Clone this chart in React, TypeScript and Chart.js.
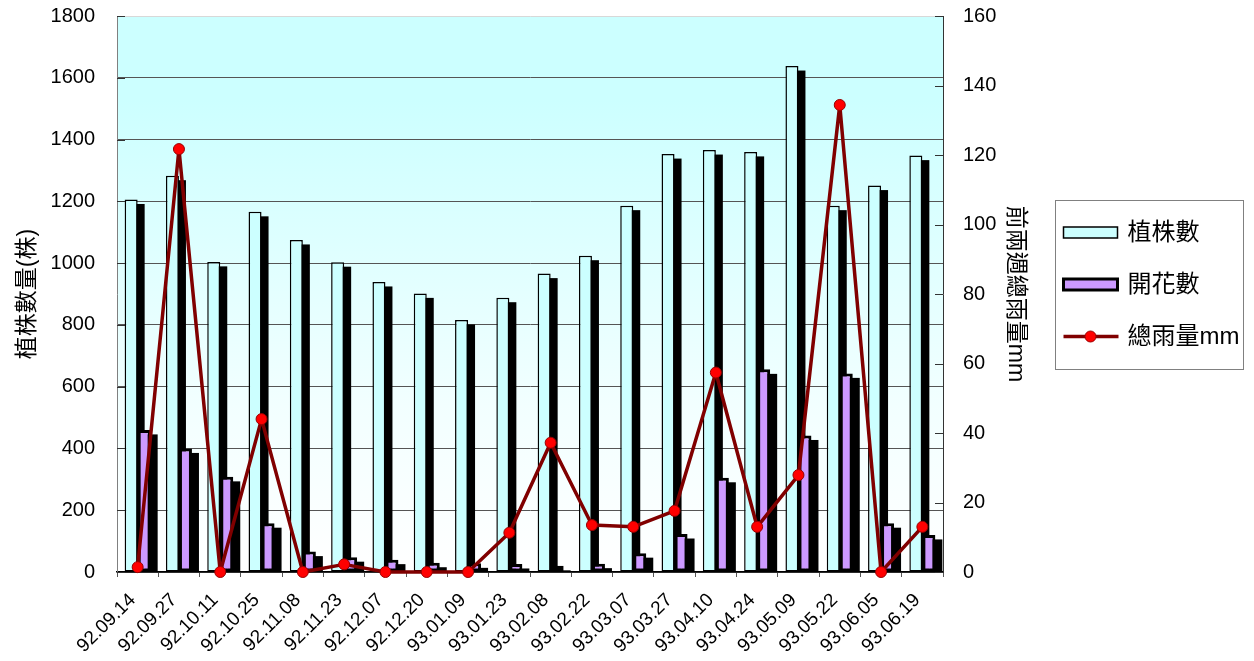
import React, { useEffect, useRef } from "react";
import { Chart, registerables } from "chart.js";

Chart.register(...registerables);

const categories = [
  "92.09.14", "92.09.27", "92.10.11", "92.10.25", "92.11.08", "92.11.23", "92.12.07",
  "92.12.20", "93.01.09", "93.01.23", "93.02.08", "93.02.22", "93.03.07", "93.03.27",
  "93.04.10", "93.04.24", "93.05.09", "93.05.22", "93.06.05", "93.06.19",
];
const plantCounts = [1206, 1283, 1004, 1166, 1075, 1003, 939, 902, 816, 888, 966, 1024, 1186, 1353, 1366, 1360, 1638, 1186, 1251, 1348];
const flowerCounts = [460, 400, 308, 158, 66, 48, 40, 30, 28, 26, 20, 27, 61, 123, 305, 656, 442, 643, 158, 120];
const rainfall = [1.4, 121.7, 0, 44, 0, 2.2, 0, 0, 0, 11.3, 37.2, 13.5, 13, 17.6, 57.4, 13, 27.9, 134.4, 0, 13];

const seriesLabels = ["植株數", "開花數", "總雨量mm"];
const leftAxisTitle = "植株數量(株)";
const rightAxisTitle = "前兩週總雨量mm";
const leftMax = 1800;
const leftStep = 200;
const rightMax = 160;
const rightStep = 20;

const FONT = '"Liberation Sans", Arial, "Noto Sans CJK TC", sans-serif';

const backgroundPlugin = {
  id: "plotBackground",
  beforeDraw(chart: any) {
    const { ctx, chartArea } = chart;
    const { left, top, right, bottom } = chartArea;
    const g = ctx.createLinearGradient(0, top, 0, bottom);
    g.addColorStop(0, "#CCFFFF");
    g.addColorStop(0.15, "#CCFFFF");
    g.addColorStop(0.7, "#F2FFFF");
    g.addColorStop(1, "#FFFFFF");
    ctx.save();
    ctx.fillStyle = g;
    ctx.fillRect(left, top, right - left, bottom - top);
    ctx.restore();
  },
};

const shadowPlugin = {
  id: "barShadow",
  beforeDatasetsDraw(chart: any) {
    const { ctx, chartArea } = chart;
    ctx.save();
    ctx.beginPath();
    ctx.rect(chartArea.left, chartArea.top, chartArea.right - chartArea.left, chartArea.bottom - chartArea.top);
    ctx.clip();
    ctx.fillStyle = "#000000";
    chart.data.datasets.forEach((ds: any, i: number) => {
      if (ds.type !== "bar") return;
      const meta = chart.getDatasetMeta(i);
      meta.data.forEach((el: any) => {
        const { x, y, base, width } = el.getProps(["x", "y", "base", "width"], true);
        const dx = 7;
        const dy = 4.5;
        const h = base - y - dy;
        if (h > 0) ctx.fillRect(x - width / 2 + dx, y + dy, width, h);
      });
    });
    ctx.restore();
  },
};

const innerTicksPlugin = {
  id: "innerTicks",
  afterDatasetsDraw(chart: any) {
    const { ctx, chartArea, scales } = chart;
    ctx.save();
    ctx.strokeStyle = "#333333";
    ctx.lineWidth = 1;
    scales.y.ticks.forEach((t: any) => {
      const py = Math.round(scales.y.getPixelForValue(t.value)) + 0.5;
      ctx.beginPath();
      ctx.moveTo(chartArea.left, py);
      ctx.lineTo(chartArea.left + 8, py);
      ctx.stroke();
    });
    scales.y1.ticks.forEach((t: any) => {
      const py = Math.round(scales.y1.getPixelForValue(t.value)) + 0.5;
      ctx.beginPath();
      ctx.moveTo(chartArea.right - 8, py);
      ctx.lineTo(chartArea.right, py);
      ctx.stroke();
    });
    ctx.restore();
  },
};

const legendPlugin = {
  id: "boxLegend",
  afterDraw(chart: any) {
    const { ctx } = chart;
    const x0 = chart.width - 199 + 0.5;
    const y0 = 200.5;
    const w = 188;
    const h = 169;
    ctx.save();
    ctx.strokeStyle = "#808080";
    ctx.lineWidth = 1;
    ctx.strokeRect(x0, y0, w, h);
    chart.data.datasets.forEach((ds: any, i: number) => {
      const cy = y0 + 32 + i * 52;
      const sx = x0 + 8;
      const sw = 54;
      if (ds.type === "line") {
        ctx.strokeStyle = ds.borderColor;
        ctx.lineWidth = ds.borderWidth;
        ctx.beginPath();
        ctx.moveTo(sx, cy);
        ctx.lineTo(sx + sw + 1, cy);
        ctx.stroke();
        ctx.beginPath();
        ctx.arc(sx + sw / 2, cy, ds.pointRadius, 0, Math.PI * 2);
        ctx.fillStyle = ds.pointBackgroundColor;
        ctx.fill();
        ctx.lineWidth = ds.pointBorderWidth;
        ctx.strokeStyle = ds.pointBorderColor;
        ctx.stroke();
      } else {
        const bh = 11;
        ctx.fillStyle = ds.backgroundColor;
        ctx.fillRect(sx, cy - bh / 2, sw, bh);
        ctx.strokeStyle = ds.borderColor;
        ctx.lineWidth = ds.borderWidth;
        ctx.strokeRect(sx, cy - bh / 2, sw, bh);
      }
      ctx.fillStyle = "#000000";
      ctx.font = `24px ${FONT}`;
      ctx.textAlign = "left";
      ctx.textBaseline = "middle";
      ctx.fillText(ds.label, x0 + 72, cy + 1);
    });
    ctx.restore();
  },
};

const plainNumber = (v: any) => String(v);

export default function App() {
  const canvasRef = useRef<HTMLCanvasElement | null>(null);

  useEffect(() => {
    if (!canvasRef.current) return;
    const chart = new Chart(canvasRef.current, {
      type: "bar",
      data: {
        labels: categories,
        datasets: [
          {
            type: "bar",
            label: seriesLabels[0],
            data: plantCounts,
            yAxisID: "y",
            backgroundColor: "#CCFFFF",
            borderColor: "#000000",
            borderWidth: 1.5,
            borderSkipped: false,
            barPercentage: 1,
            categoryPercentage: 0.63,
            order: 1,
          },
          {
            type: "bar",
            label: seriesLabels[1],
            data: flowerCounts,
            yAxisID: "y",
            backgroundColor: "#CC99FF",
            borderColor: "#000000",
            borderWidth: 3,
            borderSkipped: false,
            barPercentage: 1,
            categoryPercentage: 0.63,
            order: 2,
          },
          {
            type: "line",
            label: seriesLabels[2],
            data: rainfall,
            yAxisID: "y1",
            borderColor: "#800000",
            borderWidth: 3.5,
            borderJoinStyle: "round",
            borderCapStyle: "round",
            pointRadius: 5.5,
            pointBackgroundColor: "#FF0000",
            pointBorderColor: "#990000",
            pointBorderWidth: 1,
            tension: 0,
            clip: false,
            order: 0,
          } as any,
        ],
      },
      options: {
        responsive: false,
        animation: false,
        layout: { padding: { left: 0, top: 16, right: 219, bottom: 0 } },
        plugins: {
          legend: { display: false },
          tooltip: { enabled: false },
        },
        scales: {
          x: {
            offset: true,
            grid: {
              display: true,
              drawOnChartArea: false,
              drawTicks: true,
              tickLength: 5,
              color: "#555555",
              offset: true,
            },
            border: { display: true, color: "#000000", width: 1.5 },
            ticks: {
              autoSkip: false,
              maxRotation: 45,
              minRotation: 45,
              padding: 12,
              labelOffset: -5,
              color: "#000000",
              font: { family: FONT, size: 19 },
            },
            afterFit(scale: any) {
              scale.height = 89;
              scale.paddingLeft = 0;
              scale.paddingRight = 0;
            },
          },
          y: {
            position: "left",
            min: 0,
            max: leftMax,
            ticks: {
              stepSize: leftStep,
              padding: 22,
              color: "#000000",
              callback: plainNumber,
              font: { family: FONT, size: 20 },
            },
            grid: {
              drawTicks: false,
              color: (c: any) => (c.tick && c.tick.value === leftMax ? "#D8D8D8" : "#555555"),
              lineWidth: 1,
            },
            border: { display: true, color: "#808080", width: 1 },
            title: {
              display: true,
              text: leftAxisTitle,
              color: "#000000",
              font: { family: FONT, size: 23, weight: "normal" },
              padding: { top: 14, bottom: 0 },
            },
            afterFit(scale: any) {
              scale.width = 117;
              scale.paddingTop = 0;
              scale.paddingBottom = 0;
            },
          },
          y1: {
            position: "right",
            min: 0,
            max: rightMax,
            ticks: {
              stepSize: rightStep,
              padding: 20,
              color: "#000000",
              callback: plainNumber,
              font: { family: FONT, size: 20 },
            },
            grid: { display: false, drawTicks: false },
            border: { display: true, color: "#333333", width: 1 },
            title: {
              display: true,
              text: rightAxisTitle,
              color: "#000000",
              font: { family: FONT, size: 23, weight: "normal" },
              padding: { top: 6, bottom: 0 },
            },
            afterFit(scale: any) {
              scale.width = 92;
              scale.paddingTop = 0;
              scale.paddingBottom = 0;
            },
          },
        },
      } as any,
      plugins: [backgroundPlugin, shadowPlugin, innerTicksPlugin, legendPlugin],
    });
    return () => chart.destroy();
  }, []);

  return (
    <div style={{ position: "fixed", left: 0, top: 0, width: 1254, height: 661, background: "#FFFFFF" }}>
      <canvas ref={canvasRef} width={1254} height={661} style={{ display: "block" }} />
    </div>
  );
}
